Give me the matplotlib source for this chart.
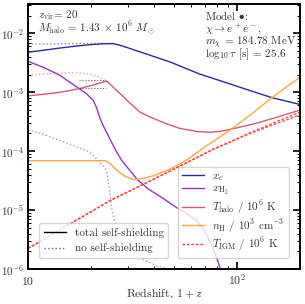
import matplotlib
matplotlib.use("Agg")
import matplotlib.pyplot as plt
from matplotlib.lines import Line2D
from matplotlib.ticker import NullFormatter

plt.rcParams['font.family'] = 'serif'
plt.rcParams['font.serif'] = ['cmr10', 'DejaVu Serif']
plt.rcParams['mathtext.fontset'] = 'cm'
plt.rcParams['axes.formatter.use_mathtext'] = True
plt.rcParams['axes.unicode_minus'] = False

# ---------------- data ----------------
z_xe = [10, 12, 14, 17, 20, 22, 24, 25.5, 27, 30, 34, 38, 48, 66, 90, 120, 147, 200]
xe = [4.8e-3, 5.2e-3, 5.6e-3, 6.1e-3, 6.45e-3, 6.6e-3, 6.7e-3, 6.7e-3, 6.4e-3, 5.7e-3,
      4.9e-3, 4.3e-3, 3.25e-3, 2.05e-3, 1.43e-3, 1.02e-3, 8.1e-4, 6.2e-4]
z_xe_ns = [10, 14, 18, 22, 24, 25.5]
xe_ns = [6.6e-3, 6.65e-3, 6.75e-3, 6.8e-3, 6.75e-3, 6.7e-3]

z_h2 = [10, 12, 14.2, 17.1, 19, 20.5, 21.3, 22.1, 23, 23.9, 25, 26.4, 28, 30, 33.3,
        37.5, 44, 52, 58, 64.5, 70, 75, 80, 84]
xh2 = [3.35e-3, 2.6e-3, 1.94e-3, 1.23e-3, 9.5e-4, 7.3e-4, 5.4e-4, 3.6e-4, 2.6e-4, 2.0e-4,
       1.45e-4, 1.0e-4, 7.0e-5, 5.2e-5, 3.3e-5, 2.3e-5, 1.6e-5, 1.07e-5, 8.5e-6, 6.5e-6,
       4.3e-6, 2.7e-6, 1.5e-6, 9e-7]
z_h2_ns = [10, 12, 13.8, 16, 18, 19.6, 21, 22, 23, 23.8, 24.5, 25.2, 26.4, 28, 30, 32,
           36, 41, 47, 54]
xh2_ns = [2.3e-4, 1.9e-4, 1.58e-4, 1.3e-4, 1.1e-4, 9.8e-5, 7.8e-5, 6.4e-5, 5.6e-5, 4.5e-5,
          2.2e-5, 1.0e-5, 4.8e-6, 3.0e-6, 2.2e-6, 1.8e-6, 1.4e-6, 1.15e-6, 1.0e-6, 9e-7]

z_th = [10, 12, 14.2, 16, 18, 20, 22, 23.8, 25, 26.5, 28.5, 30, 34.3, 38.4, 45, 53, 64.5,
        75, 85, 95, 120, 150, 200]
th = [8.7e-4, 9.3e-4, 1.0e-3, 1.08e-3, 1.18e-3, 1.3e-3, 1.43e-3, 1.55e-3, 1.31e-3, 1.08e-3,
      8.5e-4, 7.1e-4, 4.6e-4, 3.8e-4, 3.0e-4, 2.45e-4, 2.15e-4, 2.1e-4, 2.2e-4, 2.4e-4,
      2.9e-4, 3.65e-4, 5.0e-4]
z_th_ns = [10, 12, 14.2, 15.9, 18, 20, 21.3, 22.5, 23.8]
th_ns = [1.95e-3, 2.05e-3, 2.1e-3, 2.15e-3, 2.12e-3, 2.0e-3, 1.87e-3, 1.72e-3, 1.55e-3]

z_marks = [17.5, 23.5]
mark_levels = [1.6e-3, 1.2e-3]

z_nh = [10, 15, 20, 23.3, 24.5, 26, 27.5, 29, 31, 32.4, 35, 40.4, 46, 52.2, 60, 66.5, 80,
        94.4, 120, 146.6, 170, 200]
nh = [6.9e-5, 6.9e-5, 6.9e-5, 6.9e-5, 6.3e-5, 5.1e-5, 4.3e-5, 3.8e-5, 3.4e-5, 3.3e-5,
      3.4e-5, 3.9e-5, 4.7e-5, 5.8e-5, 7.9e-5, 1.04e-4, 1.62e-4, 2.4e-4, 4.6e-4, 8.1e-4,
      1.2e-3, 1.8e-3]

z_tigm = [10, 12, 15, 20, 24.9, 30, 40, 52.2, 65, 76.8, 100, 115, 130, 160, 200]
tigm_a = [2.24e-6, 3.27e-6, 5.2e-6, 9.4e-6, 1.48e-5, 2.04e-5, 3.37e-5, 5.4e-5, 8.0e-5,
          1.08e-4, 1.62e-4, 2.05e-4, 2.45e-4, 3.35e-4, 4.6e-4]
tigm_b = [2.24e-6, 3.27e-6, 5.2e-6, 9.4e-6, 1.48e-5, 2.04e-5, 3.37e-5, 5.4e-5, 8.0e-5,
          1.08e-4, 1.62e-4, 2.0e-4, 2.35e-4, 3.1e-4, 4.15e-4]

labels = [r'$x_e$', r'$x_{\rm H_2}$', r'$T_{\rm halo}$ / $10^6$ K',
          r'$n_{\rm H}$ / $10^3$ cm$^{-3}$', r'$T_{\rm IGM}$ / $10^6$ K']
shield_labels = ['total self-shielding', 'no self-shielding']
xtick_vals = [10, 100]
xtick_labels = ['10', r'$10^2$']
left_text = [r'$z_{\rm vir}$= 20', r'$M_{\rm halo}$ = 1.43 $\times$ $10^6$ $M_\odot$']
right_text = [r'Model $\bullet$:', r'$\chi \to e^+e^-$,', r'$m_\chi$ = 184.78 MeV',
              r'$\log_{10}\tau$ [s] = 25.6']

# ---------------- style ----------------
c_xe = '#2a2a9c'
c_h2 = '#9a34c4'
c_th = '#d45a7c'
c_nh = '#ffa63c'
c_ig = '#ff3c3c'
lw = 1.0
a_ns = 0.6
tc = '#333333'

fig = plt.figure(figsize=(3.05, 3.04), dpi=100)
ax = fig.add_axes([0.092, 0.115, 0.892, 0.872])

ax.plot(z_xe, xe, color=c_xe, lw=lw)
ax.plot(z_xe_ns, xe_ns, color=c_xe, lw=lw, ls=':', alpha=a_ns)
ax.plot(z_h2, xh2, color=c_h2, lw=lw)
ax.plot(z_h2_ns, xh2_ns, color=c_h2, lw=lw, ls=':', alpha=a_ns)
ax.plot(z_th, th, color=c_th, lw=lw)
ax.plot(z_th_ns, th_ns, color=c_th, lw=lw, ls=':', alpha=a_ns)
for lev in mark_levels:
    ax.plot(z_marks, [lev, lev], color='k', lw=0.8, ls=':', alpha=0.6)
ax.plot(z_nh, nh, color=c_nh, lw=lw)
ax.plot(z_tigm, tigm_a, color=c_ig, lw=lw, ls='--', dashes=(2, 1.2), alpha=0.9)
ax.plot(z_tigm, tigm_b, color=c_ig, lw=lw, ls='--', dashes=(2, 1.2), alpha=0.9)

ax.set_xscale('log')
ax.set_yscale('log')
ax.set_xlim(10, 200)
ax.set_ylim(1e-6, 3.16e-2)
ax.set_xticks(xtick_vals)
ax.set_xticklabels(xtick_labels)
ax.xaxis.set_minor_formatter(NullFormatter())
ax.set_xlabel(r'Redshift, $1+z$', fontsize=8.5, color=tc, va='baseline')
ax.xaxis.set_label_coords(0.5, -0.1057)

for sp in ax.spines.values():
    sp.set_linewidth(1.4)
ax.tick_params(which='both', direction='in', top=True, right=True, labelcolor=tc)
ax.tick_params(which='major', length=5, width=1.2)
ax.tick_params(which='minor', length=2.5, width=0.7)
ax.tick_params(axis='x', which='major', pad=11.5, labelsize=8.5)
ax.tick_params(axis='y', which='major', pad=2.5, labelsize=8)
for lab in ax.get_xticklabels():
    lab.set_va('baseline')

for txt, yb in zip(left_text, [0.9453, 0.8943]):
    ax.text(0.035, yb, txt, transform=ax.transAxes, fontsize=8, va='baseline',
            ha='left', color=tc)
for txt, yb in zip(right_text, [0.9396, 0.8925, 0.8453, 0.7981]):
    ax.text(0.65, yb, txt, transform=ax.transAxes, fontsize=8, va='baseline',
            ha='left', color=tc)

h1 = [Line2D([], [], color=c_xe, lw=lw), Line2D([], [], color=c_h2, lw=lw),
      Line2D([], [], color=c_th, lw=lw), Line2D([], [], color=c_nh, lw=lw),
      Line2D([], [], color=c_ig, lw=lw, ls='--', dashes=(2, 1.2))]
leg1 = ax.legend(h1, labels, loc='lower right', fontsize=8, borderaxespad=1.0,
                 labelcolor=tc, labelspacing=0.1, handletextpad=0.7)
ax.add_artist(leg1)
h2 = [Line2D([], [], color='k', lw=lw), Line2D([], [], color='k', lw=lw, ls=':', alpha=0.6)]
ax.legend(h2, shield_labels, loc='lower left', fontsize=8,
          borderaxespad=1.0, labelcolor=tc)

fig.savefig('out.png', dpi=100)
